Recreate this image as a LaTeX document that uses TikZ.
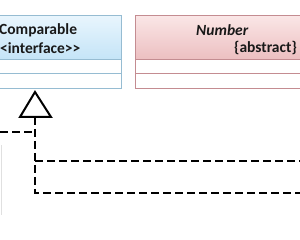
\documentclass[tikz,border=0pt]{standalone}
\usepackage{fontspec}
\setmainfont{Carlito}
\definecolor{bluebrd}{RGB}{150,188,210}
\definecolor{bluetop}{RGB}{232,245,253}
\definecolor{bluebot}{RGB}{196,228,247}
\definecolor{redbrd}{RGB}{196,140,145}
\definecolor{redtop}{RGB}{250,230,230}
\definecolor{redbot}{RGB}{236,190,192}
\begin{document}
\begin{tikzpicture}[x=1pt,y=-1pt,
  box/.style={draw, line width=1pt, inner sep=0pt, outer sep=0pt, anchor=north west, fill=white},
  bluebox/.style={box, draw=bluebrd},
  redbox/.style={box, draw=redbrd},
  lbl/.style={font=\fontsize{15.5}{18}\selectfont\bfseries, inner sep=0pt, text=black!90},
  dashline/.style={line width=2.8pt, dash pattern=on 8pt off 4pt},
  tri/.style={draw=black, line width=2pt, fill=white, line join=miter}]
\useasboundingbox (0,0) rectangle (300,240);
% Comparable
\node[bluebox, top color=bluetop, bottom color=bluebot, minimum width=131pt, minimum height=44pt] (comphead) at (-10,16) {};
\node[bluebox, minimum width=131pt, minimum height=14pt] (comprow1) at (-10,60) {};
\node[bluebox, minimum width=131pt, minimum height=15pt] (comprow2) at (-10,74) {};
\node[lbl, anchor=west] (comptitle) at (-1,30) {Comparable};
\node[lbl, anchor=west] (compster) at (0,48) {<interface>{}>};
% Number
\node[redbox, top color=redtop, bottom color=redbot, minimum width=190pt, minimum height=44pt] (numhead) at (135,16) {};
\node[redbox, minimum width=190pt, minimum height=14pt] (numrow1) at (135,60) {};
\node[redbox, minimum width=190pt, minimum height=15pt] (numrow2) at (135,74) {};
\node[lbl, anchor=west, font=\fontsize{15.5}{18}\selectfont\bfseries\itshape] (numtitle) at (196,30) {Number};
\node[lbl, anchor=west] (numster) at (234,48) {\{abstract\}};
% realization arrow
\coordinate (tip) at (35,92);
\coordinate (tribl) at (20,117);
\coordinate (tribr) at (51,117);
\coordinate (tribase) at (35,117);
\coordinate (turn) at (35,193);
\coordinate (mid) at (35,161);
\coordinate (join) at (35,132);
\coordinate (leftend) at (0,132);
\coordinate (rend1) at (300,161);
\coordinate (rend2) at (300,193);
\draw[dashline] (tribase) -- (turn) -- (rend2);
\draw[dashline] (mid) -- (rend1);
\draw[dashline] (leftend) -- (join);
\draw[tri] (tip) -- (tribl) -- (tribr) -- cycle;
% faint edge at left
\draw[black!12, line width=0.8pt] (1,145) -- (1,215);
\end{tikzpicture}
\end{document}
